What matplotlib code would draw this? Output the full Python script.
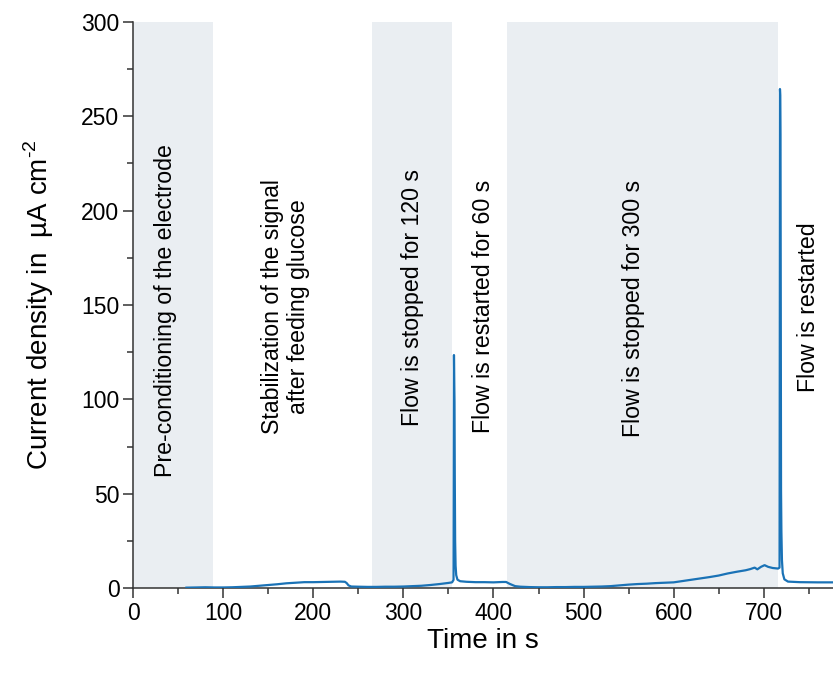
import matplotlib.pyplot as plt
from matplotlib.ticker import MultipleLocator

plt.rcParams['font.family'] = ['Liberation Sans', 'DejaVu Sans']
plt.rcParams['mathtext.fontset'] = 'custom'
plt.rcParams['mathtext.rm'] = 'Liberation Sans'

# chronoamperometry trace (time in s, current density in uA cm^-2)
time = [59, 70, 80, 90, 100, 110, 120, 130, 140, 150, 160, 170, 180, 190,
        200, 210, 220, 230, 235, 237, 239, 242, 250, 260, 270, 280, 290,
        300, 310, 320, 330, 340, 350, 354, 355.6, 356.1, 356.4, 356.7,
        357.0, 357.4, 357.9, 358.6, 360, 363, 370, 380, 390, 400, 410,
        414, 418, 424, 430, 440, 450, 460, 470, 480, 490, 500, 510, 520,
        530, 540, 550, 560, 570, 580, 590, 600, 610, 620, 630, 640, 650,
        660, 670, 680, 685, 690, 693, 697, 701, 705, 710, 716, 717.6,
        718.1, 718.4, 718.7, 719.0, 719.3, 719.7, 720.3, 721.2, 723,
        727, 740, 760, 778]
current = [0.4, 0.5, 0.6, 0.5, 0.5, 0.6, 0.8, 1.0, 1.4, 1.8, 2.2, 2.7,
           3.0, 3.3, 3.3, 3.4, 3.5, 3.6, 3.5, 2.8, 1.6, 1.0, 0.9, 0.8,
           0.8, 0.9, 0.9, 1.0, 1.2, 1.4, 1.8, 2.3, 2.9, 3.2, 4.5, 123.5,
           110, 99, 60, 25, 12, 7, 4.6, 3.8, 3.5, 3.3, 3.3, 3.2, 3.4,
           3.4, 2.4, 1.2, 0.9, 0.7, 0.6, 0.6, 0.7, 0.7, 0.8, 0.8, 0.9,
           1.0, 1.2, 1.6, 2.0, 2.3, 2.5, 2.8, 3.0, 3.2, 3.9, 4.6, 5.3,
           6.0, 6.8, 7.9, 8.8, 9.6, 10.2, 11.0, 10.1, 11.4, 12.3, 11.4,
           10.8, 10.5, 11.0, 264.3, 261, 240, 150, 52, 30, 15, 8, 4.8,
           3.6, 3.3, 3.2, 3.2]

# experiment phases with flow stopped / pre-conditioning (start, end in s)
shade_start = [0, 265.5, 414.6]
shade_end = [88.2, 353.5, 715.5]

# phase annotations: text, x position (s), y position (uA cm^-2)
notes = ['Pre-conditioning of the electrode',
         'Stabilization of the signal\nafter feeding glucose',
         'Flow is stopped for 120 s',
         'Flow is restarted for 60 s',
         'Flow is stopped for 300 s',
         'Flow is restarted']
note_x = [35.5, 169, 310, 389, 556, 750]
note_y = [147, 149, 154, 149, 148, 149]

fig = plt.figure(figsize=(8.33, 6.74), dpi=100)
ax = fig.add_axes([0.16, 0.127, 0.84, 0.841])

for s, e in zip(shade_start, shade_end):
    ax.axvspan(s, e, ymin=0, ymax=1, color='#eaeef2', lw=0, zorder=0)

ax.plot(time, current, color='#1a72b6', lw=1.6, zorder=3)

for txt, x, y in zip(notes, note_x, note_y):
    ax.text(x, y, txt, rotation=90, ha='center', va='center',
            fontsize=16.7, color='black', linespacing=1.2, zorder=4)

ax.set_xlim(0, 777)
ax.set_ylim(0, 300)
ax.xaxis.set_major_locator(MultipleLocator(100))
ax.xaxis.set_minor_locator(MultipleLocator(50))
ax.yaxis.set_major_locator(MultipleLocator(50))
ax.yaxis.set_minor_locator(MultipleLocator(25))

for side in ['top', 'right']:
    ax.spines[side].set_visible(False)
for side in ['left', 'bottom']:
    ax.spines[side].set_color('#333333')
    ax.spines[side].set_linewidth(1.1)

ax.tick_params(which='major', length=7, width=1.1, color='#333333',
               labelsize=16.5, pad=3)
ax.tick_params(which='minor', length=4, width=1.1, color='#333333')

ax.set_xlabel('Time in s', fontsize=20, labelpad=2)
ax.set_ylabel(r'Current density in  µA cm$^{\text{-2}}$', fontsize=20,
              labelpad=18)

fig.savefig('out.png', dpi=100)
